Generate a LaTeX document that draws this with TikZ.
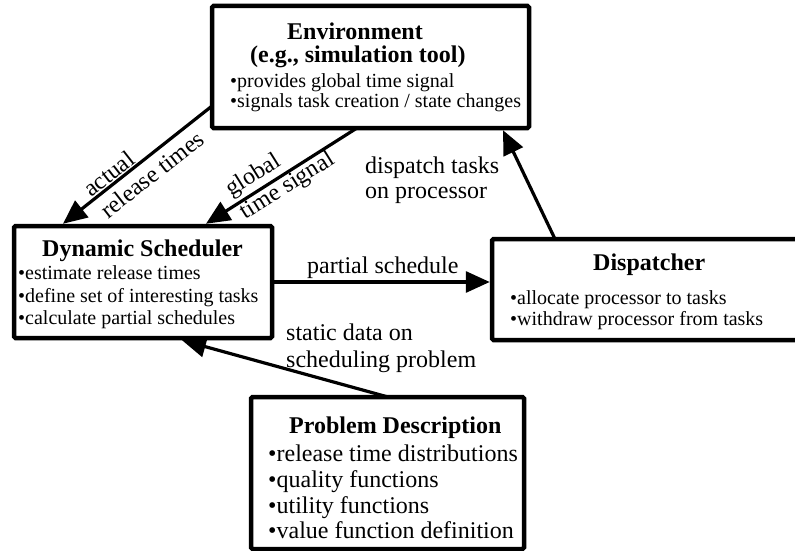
\documentclass[tikz,border=0pt]{standalone}
\usepackage{fontspec}
\setmainfont{Liberation Serif}
\usetikzlibrary{arrows.meta,calc}
\begin{document}
\begin{tikzpicture}[x=1pt,y=-1pt,
  box/.style={draw, line width=4.5pt, rounded corners=1.5pt, fill=white, inner sep=0pt, outer sep=0pt},
  conn/.style={line width=3.2pt, -{Triangle[length=24pt,width=21pt]}},
  ttl/.style={inner sep=0pt, anchor=base west, font=\fontsize{24}{26}\selectfont\bfseries},
  itm/.style={inner sep=0pt, anchor=base west, font=\fontsize{20}{22}\selectfont},
  bigitm/.style={inner sep=0pt, anchor=base west, font=\fontsize{24}{26}\selectfont},
  lbl/.style={inner sep=0pt, anchor=base west, font=\fontsize{24}{27}\selectfont},
  rlbl/.style={inner sep=0pt, align=left, font=\fontsize{24}{27}\selectfont},
]
\useasboundingbox (0,0) rectangle (795,551);
\fill[white] (0,0) rectangle (795,551);
\clip (0,0) rectangle (795,551);

% boxes
\node[box, minimum width=317pt, minimum height=122pt] (env) at (370.5,67) {};
\node[box, minimum width=258pt, minimum height=112pt] (ds) at (143,282) {};
\node[box, minimum width=314pt, minimum height=101pt] (disp) at (649,289.5) {};
\node[box, minimum width=273pt, minimum height=152pt] (pd) at (387.5,473) {};

% connectors
\draw[conn] ($(env.north west)+(0,100)$) -- ($(ds.north west)+(49,-2.25)$);
\draw[conn] ($(env.south west)+(145,0)$) -- ($(ds.north west)+(192,-2.25)$);
\draw[conn] ($(disp.north west)+(63,0)$) -- ($(env.south west)+(291,2.25)$);
\draw[conn] ($(ds.north east)+(0,56)$) -- ($(disp.north west)+(-2.25,43)$);
\draw[conn] ($(pd.north west)+(137,0)$) -- ($(ds.south west)+(168,2.25)$);

% environment
\node[ttl] (envt1) at (287,40) {Environment};
\node[ttl] (envt2) at (250,63) {(e.g., simulation tool)};
\node[itm] (env1) at (230,87) {•provides global time signal};
\node[itm] (env2) at (230,107) {•signals task creation / state changes};

% dynamic scheduler
\node[ttl] (dst) at (42,256) {Dynamic Scheduler};
\node[itm] (ds1) at (18,279) {•estimate release times};
\node[itm] (ds2) at (18,302) {•define set of interesting tasks};
\node[itm] (ds3) at (18,324) {•calculate partial schedules};

% dispatcher
\node[ttl] (dpt) at (593,270) {Dispatcher};
\node[itm] (dp1) at (510,304) {•allocate processor to tasks};
\node[itm] (dp2) at (510,325) {•withdraw processor from tasks};

% problem description
\node[ttl] (pdt) at (289,433) {Problem Description};
\node[bigitm] (pd1) at (268,461) {•release time distributions};
\node[bigitm] (pd2) at (268,487) {•quality functions};
\node[bigitm] (pd3) at (268,513) {•utility functions};
\node[bigitm] (pd4) at (268,538) {•value function definition};

% connector labels
\node[lbl] (lp) at (307,273) {partial schedule};
\node[lbl] (ld1) at (365,173) {dispatch tasks};
\node[lbl] (ld2) at (365,198) {on processor};
\node[lbl] (ls1) at (286,340) {static data on};
\node[lbl] (ls2) at (286,367) {scheduling problem};
\node[rlbl, rotate=38] (lact) at (143.8,163.6) {actual\\release times};
\node[rlbl, rotate=32] (lglob) at (280.6,175.2) {global\\time signal};
\end{tikzpicture}
\end{document}
